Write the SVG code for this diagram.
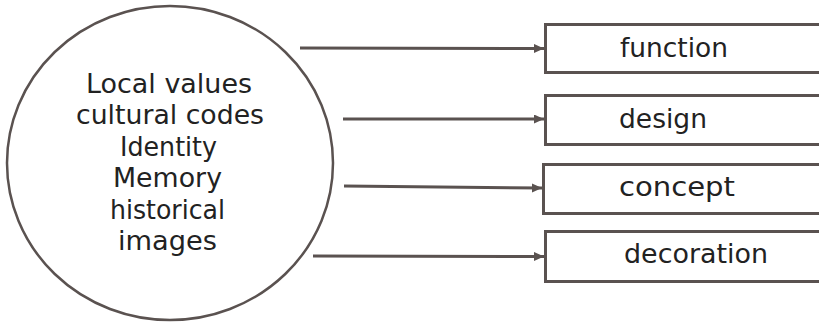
<svg xmlns="http://www.w3.org/2000/svg" width="819" height="326" viewBox="0 0 819 326">
  <style>
    .shape { fill: #ffffff; stroke: #5a5250; stroke-width: 3; }
    .circ { fill: #ffffff; stroke: #5a5250; stroke-width: 2.5; }
    .conn { fill: none; stroke: #5a5250; stroke-width: 3; }
    .lbl { font-family: "DejaVu Sans", "Liberation Sans", sans-serif; font-size: 26px; fill: #222222; }
  </style>
  <defs>
    <marker id="arrow" markerUnits="userSpaceOnUse" markerWidth="12" markerHeight="10" refX="10" refY="4.5" orient="auto">
      <path d="M0,0 L10,4.5 L0,9 Z" fill="#5a5250"/>
    </marker>
  </defs>
  <rect width="819" height="326" fill="#ffffff"/>

  <g id="source">
    <ellipse class="circ" cx="170" cy="163" rx="163" ry="157"/>
    <text class="lbl" x="86" y="93" textLength="166" lengthAdjust="spacingAndGlyphs">Local values</text>
    <text class="lbl" x="76" y="124.4" textLength="188" lengthAdjust="spacingAndGlyphs">cultural codes</text>
    <text class="lbl" x="120" y="155.8" textLength="97" lengthAdjust="spacingAndGlyphs">Identity</text>
    <text class="lbl" x="113" y="187.2" textLength="109" lengthAdjust="spacingAndGlyphs">Memory</text>
    <text class="lbl" x="110" y="218.6" textLength="115" lengthAdjust="spacingAndGlyphs">historical</text>
    <text class="lbl" x="118" y="250" textLength="99" lengthAdjust="spacingAndGlyphs">images</text>
  </g>

  <g id="function">
    <rect class="shape" x="545.5" y="24.5" width="300" height="48"/>
    <text class="lbl" x="620" y="57" textLength="108" lengthAdjust="spacingAndGlyphs">function</text>
  </g>
  <g id="design">
    <rect class="shape" x="545.5" y="95.5" width="300" height="49"/>
    <text class="lbl" x="619" y="128" textLength="88" lengthAdjust="spacingAndGlyphs">design</text>
  </g>
  <g id="concept">
    <rect class="shape" x="543.5" y="164.5" width="300" height="49"/>
    <text class="lbl" x="619" y="196" textLength="116" lengthAdjust="spacingAndGlyphs">concept</text>
  </g>
  <g id="decoration">
    <rect class="shape" x="545.5" y="231.5" width="300" height="50"/>
    <text class="lbl" x="624" y="263" textLength="144" lengthAdjust="spacingAndGlyphs">decoration</text>
  </g>

  <g id="connectors">
    <line class="conn" x1="300" y1="48" x2="544" y2="48.5" marker-end="url(#arrow)"/>
    <line class="conn" x1="343" y1="119" x2="544" y2="119" marker-end="url(#arrow)"/>
    <line class="conn" x1="344" y1="186" x2="542" y2="188" marker-end="url(#arrow)"/>
    <line class="conn" x1="313" y1="256" x2="544" y2="256.5" marker-end="url(#arrow)"/>
  </g>
</svg>
